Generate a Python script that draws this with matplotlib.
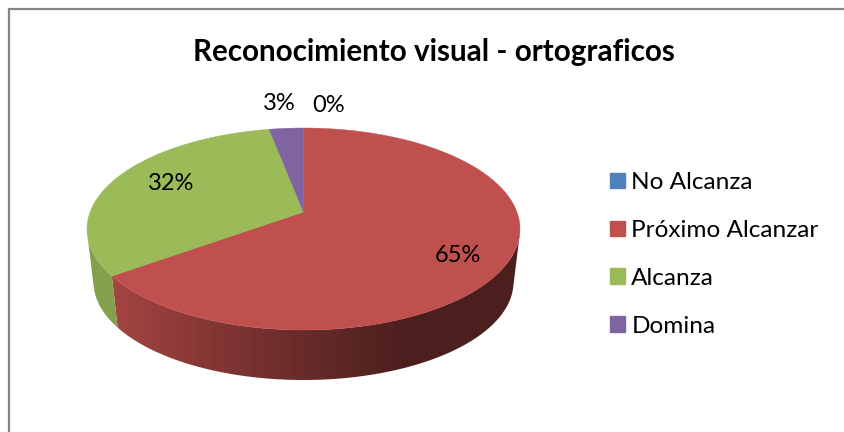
import numpy as np
import matplotlib
matplotlib.use("Agg")
import matplotlib.pyplot as plt
from matplotlib.patches import Polygon, Patch
from matplotlib.colors import to_rgb

title = "Reconocimiento visual - ortograficos"
categories = ["No Alcanza", "Próximo Alcanzar", "Alcanza", "Domina"]
values = [0, 65, 32, 3]
labels = ["0%", "65%", "32%", "3%"]
colors = ["#4F81BD", "#C0504D", "#9BBB59", "#8064A2"]

label_xy = {"0%": (329, 106), "65%": (458, 256), "32%": (171, 184), "3%": (279, 103.5)}

W, H = 845, 432
plt.rcParams["font.family"] = ["Lato", "DejaVu Sans"]
fig = plt.figure(figsize=(W / 100, H / 100), dpi=100)
ax = fig.add_axes([0, 0, 1, 1])
ax.axis("off")

# frame (top and left sides visible)
ax.plot([W, 9.5, 9.5], [9, 9, H], color="#868686", lw=1.6, solid_joinstyle="miter", zorder=1)

CX, CY_TOP, RX_TOP, RY_TOP = 303.5, 229, 216.5, 101
CY_BOT, RX_BOT, RY_BOT = 282, 210, 98
APEX = 17 / 101


def project(theta, cy, rx, ry):
    u, v = np.sin(theta), np.cos(theta)
    d = 1 + APEX * v
    x = CX + rx * np.sqrt(1 - APEX ** 2) * u / d
    y = cy - ry * (v + APEX) / d
    return x, y


def shade_strip(base):
    """Side wall shading from the lit left to the dark right."""
    xs = np.arange(0, W, 4.0)
    f = np.interp(xs, [110, 200, 303, 400, 530], [0.86, 0.70, 0.54, 0.40, 0.39])
    return (np.outer(f, to_rgb(base)))[np.newaxis, :, :]


def visible(theta):
    """True where the wall between the top and bottom rims faces the viewer."""
    xt, yt = project(theta, CY_TOP, RX_TOP, RY_TOP)
    xb, yb = project(theta, CY_BOT, RX_BOT, RY_BOT)
    dx, dy = np.gradient(xt, theta), np.gradient(yt, theta)
    return dx * (yb - yt) - dy * (xb - xt) < 0


fractions = np.array(values, dtype=float) / sum(values)
edges = np.concatenate([[0], np.cumsum(fractions)]) * 2 * np.pi

# side walls
for val, c, a0, a1 in zip(values, colors, edges[:-1], edges[1:]):
    if val == 0:
        continue
    th = np.linspace(a0, a1, 600)
    th = th[visible(th)]
    if th.size < 2:
        continue
    xt, yt = project(th, CY_TOP, RX_TOP, RY_TOP)
    xb, yb = project(th[::-1], CY_BOT, RX_BOT, RY_BOT)
    wall = Polygon(np.column_stack([np.r_[xt, xb], np.r_[yt, yb]]), closed=True,
                   transform=ax.transData, fc="none", ec="none")
    ax.add_patch(wall)
    im = ax.imshow(shade_strip(c), extent=(0, W, H, 0), aspect="auto",
                   interpolation="nearest", zorder=2)
    im.set_clip_path(wall)

ax.set_xlim(0, W)
ax.set_ylim(H, 0)

# top faces
centre = (CX, CY_TOP - RY_TOP * APEX)
for val, c, a0, a1 in zip(values, colors, edges[:-1], edges[1:]):
    if val == 0:
        continue
    th = np.linspace(a0, a1, 300)
    x, y = project(th, CY_TOP, RX_TOP, RY_TOP)
    pts = np.vstack([[centre], np.column_stack([x, y])])
    ax.add_patch(Polygon(pts, closed=True, fc=c, ec=c, lw=0.3, zorder=3))

# data labels
for lab in labels:
    lx, ly = label_xy[lab]
    ax.text(lx, ly, lab, ha="center", va="center", fontsize=17, color="black", zorder=4)

ax.text(434, 52, title, ha="center", va="center", fontsize=21.3, fontweight="bold", color="black")

handles = [Patch(fc=c, ec=c, label=n) for n, c in zip(categories, colors)]
ax.legend(handles=handles, loc="center left", bbox_to_anchor=(610 / W, 1 - 254.5 / H),
          frameon=False, fontsize=17.6, handlelength=0.62, handleheight=0.62,
          handletextpad=0.25, labelspacing=1.1, borderpad=0, borderaxespad=0)

fig.savefig("out.png", dpi=100, facecolor="white")
